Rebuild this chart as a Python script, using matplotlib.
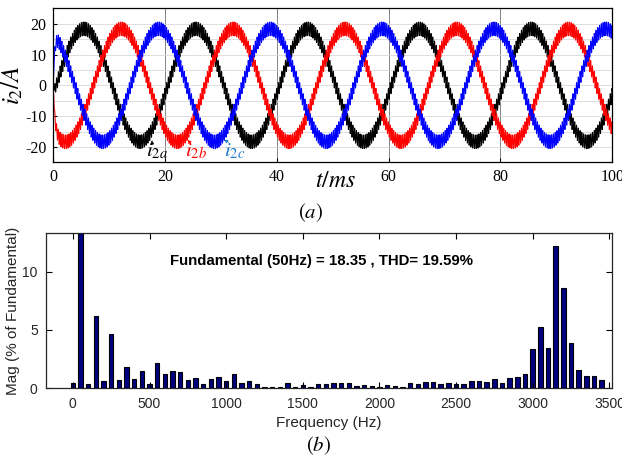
import numpy as np
import matplotlib
matplotlib.use('Agg')
import matplotlib.pyplot as plt

plt.rcParams['mathtext.fontset'] = 'stix'
plt.rcParams['axes.unicode_minus'] = False

# harmonic spectrum of i2 (% of fundamental), 50 Hz steps from 0 to 3450 Hz
harm_freq = list(range(0, 3500, 50))
harm_mag = [0.48, 100.0, 0.34, 6.17, 0.63, 4.65, 0.71, 1.80, 0.80, 1.48,
            0.40, 2.14, 1.20, 1.48, 1.37, 0.74, 0.86, 0.34, 0.80, 0.94,
            0.65, 1.20, 0.45, 0.60, 0.37, 0.14, 0.14, 0.14, 0.43, 0.14,
            0.30, 0.08, 0.37, 0.37, 0.48, 0.48, 0.48, 0.20, 0.30, 0.20,
            0.14, 0.26, 0.23, 0.10, 0.48, 0.34, 0.50, 0.50, 0.37, 0.43,
            0.34, 0.37, 0.65, 0.60, 0.57, 0.77, 0.49, 0.86, 0.97, 1.20,
            3.37, 5.29, 3.43, 12.20, 8.63, 3.91, 1.57, 1.06, 1.06, 0.71]
fundamental = 18.35
thd = 19.59

phase_names = [r'$i_{2a}$', r'$i_{2b}$', r'$i_{2c}$']
phase_colors = ['black', '#ff0000', '#0000ff']
label_colors = ['black', '#ff0000', '#1f78c8']
phase_shift_deg = [0, -120, 120]


def phase_current(t, shift_deg):
    """fundamental plus the dominant switching harmonic as ripple"""
    lag = np.deg2rad(-9)
    sh = np.deg2rad(shift_deg)
    i = fundamental * np.sin(2 * np.pi * 50 * t + sh + lag)
    # strongest component of the switching band (excluding the fundamental)
    k = max(range(2, len(harm_mag)), key=lambda j: harm_mag[j])
    f_sw, m_sw = harm_freq[k], harm_mag[k]
    i += fundamental * m_sw / 100 * np.sin(2 * np.pi * f_sw * t + f_sw / 50 * (sh + lag))
    # inverter start-up
    return i * (1 - np.exp(-t / 0.00025))


t = np.linspace(0, 0.1, 40001)

fig = plt.figure(figsize=(6.22, 4.58), dpi=100)

# (a) output currents
ax1 = fig.add_axes([0.0857, 0.6456, 0.8987, 0.3362])
for shift, color in zip(phase_shift_deg, phase_colors):
    ax1.plot(t * 1000, phase_current(t, shift), color=color, lw=0.75)
ax1.set_xlim(0, 100)
ax1.set_ylim(-25, 25)
ax1.set_xticks([0, 20, 40, 60, 80, 100])
ax1.set_yticks([-20, -10, 0, 10, 20])
ax1.set_yticks([-15, -5, 5, 15], minor=True)
ax1.grid(axis='x', color='#707070', lw=0.6)
ax1.grid(axis='y', which='both', color='#d8d8d8', lw=0.6)
ax1.set_axisbelow(True)
ax1.tick_params(direction='in', length=3, labelsize=11.5, pad=5)
ax1.tick_params(which='minor', length=0)
for lab in ax1.get_xticklabels() + ax1.get_yticklabels():
    lab.set_fontfamily('Liberation Serif')
ax1.set_ylabel(r'$i_2/A$', fontsize=18)
ax1.yaxis.set_label_coords(-0.05, 0.5)
for sp in ax1.spines.values():
    sp.set_linewidth(0.9)

label_pos = [(18.5, -21.3), (25.5, -21.3), (32.5, -21.3)]
arrow_tip = [(17.6, -17.0), (23.7, -17.0), (30.2, -17.0)]
for name, c, (x, y), (tx, ty) in zip(phase_names, label_colors, label_pos, arrow_tip):
    ax1.text(x, y, name, color=c, fontsize=15, ha='center', va='center')
    ax1.annotate('', xy=(tx, ty), xytext=(x - 0.8, y + 2.2),
                 arrowprops=dict(arrowstyle='-|>', color=c, lw=0.6,
                                 ls='--', mutation_scale=5))

fig.text(0.539, 0.607, r'$t/ms$', fontsize=17, ha='center', va='center')
fig.text(0.5, 0.535, r'$(a)$', fontsize=15, ha='center', va='center')

# (b) FFT of phase a
ax2 = fig.add_axes([0.074, 0.1522, 0.9095, 0.3397])
ax2.bar(harm_freq, harm_mag, width=30, color='#000080', edgecolor='black',
        linewidth=0.8)
ax2.set_xlim(-175, 3515)
ax2.set_ylim(0, 13.33)
ax2.set_xticks(range(0, 3501, 500))
ax2.set_yticks([0, 5, 10])
ax2.tick_params(direction='in', length=4, labelsize=10, top=True, right=True,
                pad=6)
for lab in ax2.get_xticklabels() + ax2.get_yticklabels():
    lab.set_fontfamily('Liberation Sans')
    lab.set_color('#262626')
ax2.set_xlabel('Frequency (Hz)', fontsize=11, family='Liberation Sans',
               color='#262626', labelpad=4)
ax2.set_ylabel('Mag (% of Fundamental)', fontsize=11, family='Liberation Sans',
               color='#262626', labelpad=2)
ax2.text(634, 10.9, 'Fundamental (50Hz) = %.2f , THD= %.2f%%' % (fundamental, thd),
         fontsize=10.8, fontweight='bold', family='Liberation Sans',
         ha='left', va='center')
for sp in ax2.spines.values():
    sp.set_linewidth(0.9)
    sp.set_color('#262626')

fig.text(0.513, 0.028, r'$(b)$', fontsize=15, ha='center', va='center')

fig.savefig('out.png', dpi=100)
plt.close(fig)
